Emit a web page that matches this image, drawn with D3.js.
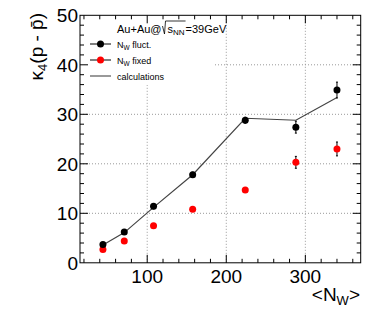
<!DOCTYPE html>
<html>
<head>
<meta charset="utf-8">
<script src="https://cdn.jsdelivr.net/npm/d3@7"></script>
<style>
  body { margin: 0; background: #fff; }
  text { font-family: "Liberation Sans", Arial, Helvetica, sans-serif; }
</style>
</head>
<body>
<div id="chart"></div>
<script>
// participants (wounded nucleons) per centrality bin
var nW = [44, 71, 108, 157.5, 224, 288, 340];
var fluct = [3.7, 6.2, 11.4, 17.8, 28.8, 27.4, 34.9];
var fluctErr = [0.3, 0.4, 0.5, 0.5, 0.6, 1.2, 1.6];
var fixed = [2.7, 4.4, 7.5, 10.8, 14.7, 20.3, 23.0];
var fixedErr = [0.3, 0.3, 0.4, 0.4, 0.5, 1.2, 1.4];
var calc = [3.6, 6.1, 11.2, 17.8, 29.2, 28.8, 33.4];
var xTicks = [100, 200, 300];
var yTicks = [0, 10, 20, 30, 40, 50];

var width = 374;
var height = 317;

var x = d3.scaleLinear().domain([15, 370]).range([80, 360.7]);
var y = d3.scaleLinear().domain([0, 50]).range([262.8, 15.3]);

var svg = d3.select("#chart").append("svg")
    .attr("width", width)
    .attr("height", height);

// dotted grid
var grid = svg.append("g")
    .attr("stroke", "#999")
    .attr("stroke-dasharray", "1,2")
    .attr("stroke-width", 1);
xTicks.forEach(function (t) {
    grid.append("line").attr("x1", x(t)).attr("x2", x(t))
        .attr("y1", y(0)).attr("y2", y(50));
});
yTicks.slice(1, 5).forEach(function (t) {
    grid.append("line").attr("x1", x(15)).attr("x2", x(370))
        .attr("y1", y(t)).attr("y2", y(t));
});

// white legend pad hides grid behind it
svg.append("rect")
    .attr("x", 80).attr("y", 15)
    .attr("width", 133).attr("height", 70)
    .attr("fill", "#fff");

// frame and ticks (ROOT style, ticks inside on all sides)
var frame = svg.append("g").attr("stroke", "#000").attr("stroke-width", 1);
frame.append("rect")
    .attr("x", x(15)).attr("y", y(50))
    .attr("width", x(370) - x(15)).attr("height", y(0) - y(50))
    .attr("fill", "none");

var xMinor = d3.range(20, 371, 20);
xMinor.forEach(function (t) {
    var len = (t % 100 === 0) ? 8 : 4;
    frame.append("line").attr("x1", x(t)).attr("x2", x(t))
        .attr("y1", y(0)).attr("y2", y(0) - len);
    frame.append("line").attr("x1", x(t)).attr("x2", x(t))
        .attr("y1", y(50)).attr("y2", y(50) + len);
});
var yMinor = d3.range(2, 50, 2);
yMinor.forEach(function (t) {
    var len = (t % 10 === 0) ? 8 : 4;
    frame.append("line").attr("x1", x(15)).attr("x2", x(15) + len)
        .attr("y1", y(t)).attr("y2", y(t));
    frame.append("line").attr("x1", x(370)).attr("x2", x(370) - len)
        .attr("y1", y(t)).attr("y2", y(t));
});

// tick labels
svg.selectAll(".ylab")
    .data(yTicks)
    .enter()
    .append("text")
    .attr("x", 78)
    .attr("y", function (d) { return y(d) + 7; })
    .attr("text-anchor", "end")
    .attr("font-size", 19)
    .text(function (d) { return d; });

svg.selectAll(".xlab")
    .data(xTicks)
    .enter()
    .append("text")
    .attr("x", function (d) { return x(d); })
    .attr("y", 282.5)
    .attr("text-anchor", "middle")
    .attr("font-size", 19)
    .text(function (d) { return d; });

// axis titles
var xt = svg.append("text")
    .attr("x", 360).attr("y", 301)
    .attr("text-anchor", "end")
    .attr("font-size", 19);
xt.append("tspan").text("<N");
xt.append("tspan").attr("font-size", 13).attr("dy", 4).text("W");
xt.append("tspan").attr("dy", -4).text(">");

var yt = svg.append("text")
    .attr("transform", "translate(43,13) rotate(-90)")
    .attr("text-anchor", "end")
    .attr("font-size", 19);
yt.append("tspan").text("κ");
yt.append("tspan").attr("font-size", 13).attr("dy", 4).text("4");
yt.append("tspan").attr("dy", -4).text("(p - p\u0304)");

// calculations line
var line = d3.line()
    .x(function (d, i) { return x(nW[i]); })
    .y(function (d) { return y(d); });
svg.append("path")
    .datum(calc)
    .attr("d", line)
    .attr("fill", "none")
    .attr("stroke", "#444")
    .attr("stroke-width", 1.2);

// points with error bars
function drawSeries(vals, errs, color) {
    var g = svg.append("g");
    vals.forEach(function (v, i) {
        var cx = x(nW[i]);
        g.append("line").attr("x1", cx).attr("x2", cx)
            .attr("y1", y(v - errs[i])).attr("y2", y(v + errs[i]))
            .attr("stroke", "#000").attr("stroke-width", 1);
        [v - errs[i], v + errs[i]].forEach(function (e) {
            g.append("line").attr("x1", cx - 1).attr("x2", cx + 1)
                .attr("y1", y(e)).attr("y2", y(e))
                .attr("stroke", "#000").attr("stroke-width", 1);
        });
        g.append("circle").attr("cx", cx).attr("cy", y(v))
            .attr("r", 3.5).attr("fill", color);
    });
}
drawSeries(fixed, fixedErr, "#ff0000");
drawSeries(fluct, fluctErr, "#000");

// legend
var legend = [
    { label: "N", sub: "W", rest: " fluct.", color: "#000", marker: true },
    { label: "N", sub: "W", rest: " fixed", color: "#ff0000", marker: true },
    { label: "calculations", sub: "", rest: "", color: "#000", marker: false }
];
var lg = svg.selectAll(".lg")
    .data(legend)
    .enter()
    .append("g")
    .attr("transform", function (d, i) { return "translate(0," + (44 + i * 16) + ")"; });
lg.append("line")
    .attr("x1", 90).attr("x2", 111)
    .attr("stroke", function (d) { return d.marker ? "#000" : "#777"; })
    .attr("stroke-width", function (d) { return d.marker ? 1 : 1.5; });
lg.filter(function (d) { return d.marker; })
    .append("circle")
    .attr("cx", 100.5).attr("r", 3.5)
    .attr("fill", function (d) { return d.color; });
var lt = lg.append("text")
    .attr("x", 117).attr("y", 3.5)
    .attr("font-size", 9);
lt.append("tspan").text(function (d) { return d.label; });
lt.append("tspan").attr("font-size", 6.5).attr("dy", 2).text(function (d) { return d.sub; });
lt.append("tspan").attr("dy", -2).text(function (d) { return d.rest; });

// title  Au+Au@sqrt(s_NN)=39GeV
var fs = 11;
var t1 = svg.append("text").attr("x", 117).attr("y", 32.5).attr("font-size", fs).text("Au+Au@");
var xr = 117 + t1.node().getComputedTextLength() + 1;
var t2 = svg.append("text").attr("x", xr + 5).attr("y", 32.5).attr("font-size", fs);
t2.append("tspan").text("s");
t2.append("tspan").attr("font-size", 8).attr("dy", 2).text("NN");
var w2 = t2.node().getComputedTextLength();
svg.append("path")
    .attr("d", "M" + xr + "," + 26 + "L" + (xr + 2) + "," + 34 + "L" + (xr + 3) + "," + 21 + "L" + (xr + 6 + w2) + "," + 21)
    .attr("fill", "none").attr("stroke", "#000").attr("stroke-width", 0.8);
svg.append("text").attr("x", xr + 6 + w2).attr("y", 32.5).attr("font-size", fs).text("=39GeV");
</script>
</body>
</html>
